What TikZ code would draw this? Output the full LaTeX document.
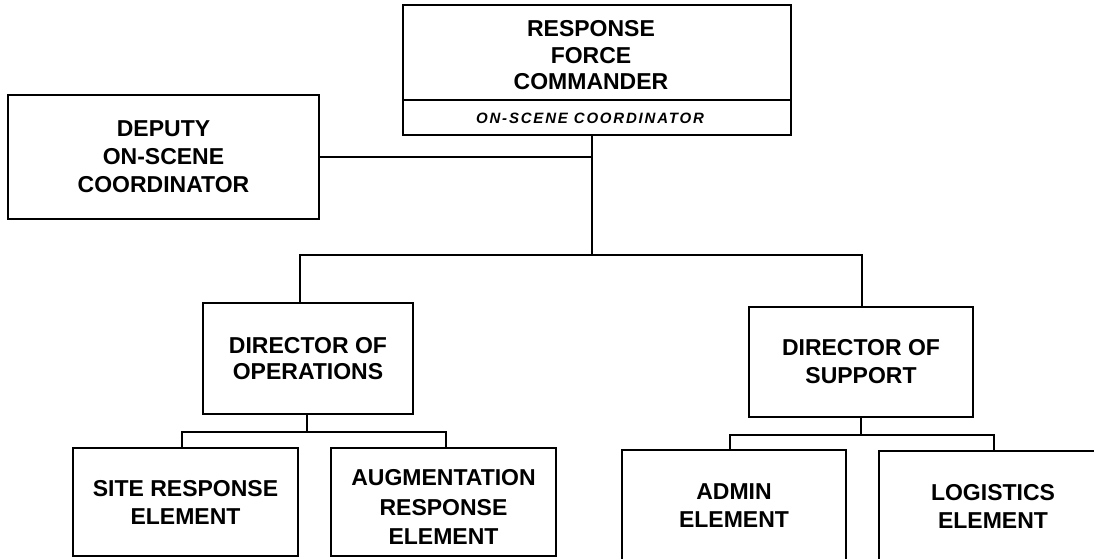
\documentclass[tikz,border=0pt]{standalone}
\usepackage{fontspec}
\setmainfont{Liberation Sans}
\begin{document}
\begin{tikzpicture}[x=1pt,y=-1pt,
  box/.style={draw, line width=1.6pt, inner sep=0pt, align=center,
    font=\fontsize{23}{28}\selectfont\bfseries},
  lbl/.style={inner sep=0pt, align=center, font=\fontsize{23}{26.5}\selectfont\bfseries},
  conn/.style={draw, line width=1.6pt}]
\useasboundingbox (0,0) rectangle (1094,558);
\clip (0,0) rectangle (1094,558);
% top
\node[box, minimum width=388pt, minimum height=95pt,
  label={[lbl, xshift=-6pt, yshift=-3pt]center:{RESPONSE\\FORCE\\COMMANDER}}] (rfc) at (597,52.5) {};
\node[box, minimum width=388pt, minimum height=35pt,
  label={[lbl, xshift=-7pt, yshift=-1pt, font=\fontsize{15}{17}\selectfont\bfseries\itshape]center:{\addfontfeature{LetterSpace=12}ON-SCENE COORDINATOR}}] (osc) at (597,117.5) {};
\node[box, minimum width=311pt, minimum height=124pt] (dep) at (163.5,157) {DEPUTY\\ON-SCENE\\COORDINATOR};
% directors
\node[box, minimum width=210pt, minimum height=111pt, font=\fontsize{23}{26.5}\selectfont\bfseries] (ops) at (308,358.5) {DIRECTOR OF\\OPERATIONS};
\node[box, minimum width=224pt, minimum height=110pt] (sup) at (861,362) {DIRECTOR OF\\SUPPORT};
% elements
\node[box, minimum width=225pt, minimum height=108pt] (site) at (185.5,502) {SITE RESPONSE\\ELEMENT};
\node[box, minimum width=225pt, minimum height=108pt,
  label={[lbl, yshift=-5pt, font=\fontsize{23}{29.5}\selectfont\bfseries]center:{AUGMENTATION\\RESPONSE\\ELEMENT}}] (aug) at (443.5,502) {};
\node[box, minimum width=224pt, minimum height=112pt] (adm) at (734,506) {ADMIN\\ELEMENT};
\node[box, minimum width=228pt, minimum height=111pt] (log) at (993,506.5) {LOGISTICS\\ELEMENT};
% connectors
\coordinate (trunk) at (592,255);
\coordinate (lb) at (300,255);
\coordinate (rb) at (862,255);
\draw[conn] (trunk |- osc.south) -- (trunk);
\draw[conn] (dep.east) -- (dep.east -| trunk);
\draw[conn] (ops.north -| lb) -- (lb) -- (rb) -- (sup.north -| rb);
\coordinate (ob) at (307,432);
\coordinate (obl) at (182,432);
\coordinate (obr) at (446,432);
\draw[conn] (ops.south -| ob) -- (ob);
\draw[conn] (site.north -| obl) -- (obl) -- (obr) -- (aug.north -| obr);
\coordinate (sb) at (861,435);
\coordinate (sbl) at (730,435);
\coordinate (sbr) at (994,435);
\draw[conn] (sup.south -| sb) -- (sb);
\draw[conn] (adm.north -| sbl) -- (sbl) -- (sbr) -- (log.north -| sbr);
\end{tikzpicture}
\end{document}
